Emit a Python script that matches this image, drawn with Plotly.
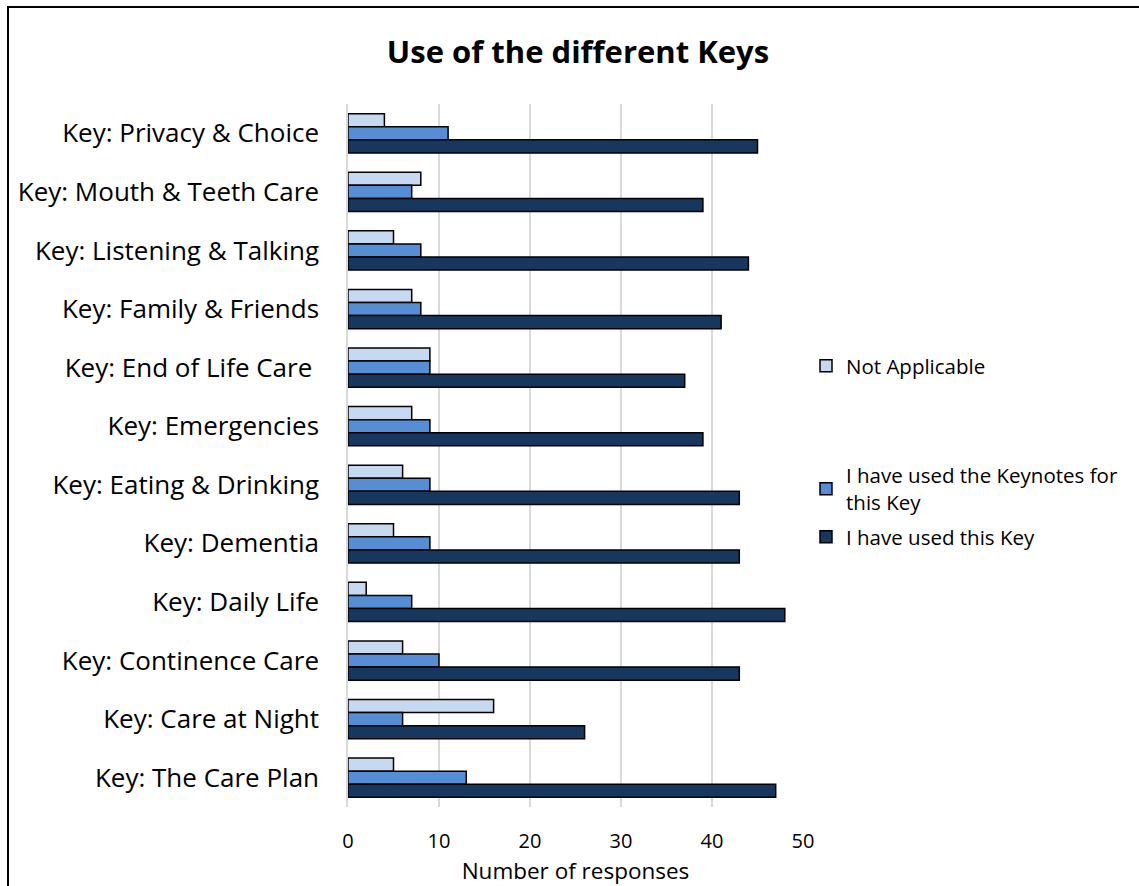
import plotly.graph_objects as go

# Survey results: how each Key has been used
keys = [
    "Key: Privacy & Choice",
    "Key: Mouth & Teeth Care",
    "Key: Listening & Talking",
    "Key: Family & Friends",
    "Key: End of Life Care ",
    "Key: Emergencies",
    "Key: Eating & Drinking",
    "Key: Dementia",
    "Key: Daily Life",
    "Key: Continence Care",
    "Key: Care at Night",
    "Key: The Care Plan",
]
not_applicable = [4, 8, 5, 7, 9, 7, 6, 5, 2, 6, 16, 5]
used_keynotes = [11, 7, 8, 8, 9, 9, 9, 9, 7, 10, 6, 13]
used_key = [45, 39, 44, 41, 37, 39, 43, 43, 48, 43, 26, 47]

x_ticks = [0, 10, 20, 30, 40, 50]

FONT = "Open Sans, sans-serif"
W, H = 1139, 886
L, R, T, B = 348, 336, 104, 79
PW, PH = W - L - R, H - T - B


def px_x(p):
    return (p - L) / PW


def px_y(p):
    return 1 - (p - T) / PH


series = [
    ("Not Applicable", not_applicable, "#c6d9f1", "legend"),
    ("I have used the Keynotes for<br>this Key", used_keynotes, "#558ed5", "legend2"),
    ("I have used this Key", used_key, "#17375e", "legend3"),
]

fig = go.Figure()
for name, vals, color, leg in series:
    fig.add_trace(go.Bar(
        y=keys, x=vals, name=name, orientation="h",
        marker=dict(color=color, line=dict(color="#000000", width=1.5)),
        legend=leg,
    ))

legend_common = dict(
    font=dict(family=FONT, size=20.5, color="#000000"),
    bgcolor="rgba(0,0,0,0)", xanchor="left", yanchor="middle",
    x=px_x(806), itemwidth=30,
)

fig.update_layout(
    width=W, height=H,
    margin=dict(l=L, r=R, t=T, b=B, autoexpand=False),
    paper_bgcolor="#ffffff", plot_bgcolor="#ffffff",
    barmode="group", bargap=0.33, bargroupgap=0,
    title=dict(
        text="<b>Use of the different Keys</b>",
        font=dict(family=FONT, size=31, color="#000000"),
        x=578 / W, xanchor="center", y=1 - 52 / H, yanchor="middle",
    ),
    xaxis=dict(
        range=[0, 50], tickvals=x_ticks,
        showgrid=True, gridcolor="#d9d9d9", gridwidth=1.5,
        zeroline=False, showline=False,
        tickfont=dict(family=FONT, size=20, color="#000000"),
        ticklabelstandoff=20,
        title=dict(text="Number of responses",
                   font=dict(family=FONT, size=22.5, color="#000000"),
                   standoff=14),
        automargin=False,
        fixedrange=True,
    ),
    yaxis=dict(
        autorange="reversed", showgrid=False, zeroline=False,
        showline=True, linecolor="#d9d9d9", linewidth=1.5,
        tickfont=dict(family=FONT, size=26, color="#000000"),
        ticklabelstandoff=22,
        automargin=False,
        fixedrange=True,
    ),
    showlegend=True,
    legend=dict(legend_common, y=px_y(366)),
    legend2=dict(legend_common, y=px_y(489)),
    legend3=dict(legend_common, y=px_y(537)),
)

# chart frame
fig.add_shape(
    type="rect", xref="paper", yref="paper",
    x0=px_x(8), x1=px_x(1160), y0=px_y(7), y1=px_y(920),
    line=dict(color="#000000", width=2), fillcolor="rgba(0,0,0,0)",
    layer="above",
)

fig.write_html("out.html")
